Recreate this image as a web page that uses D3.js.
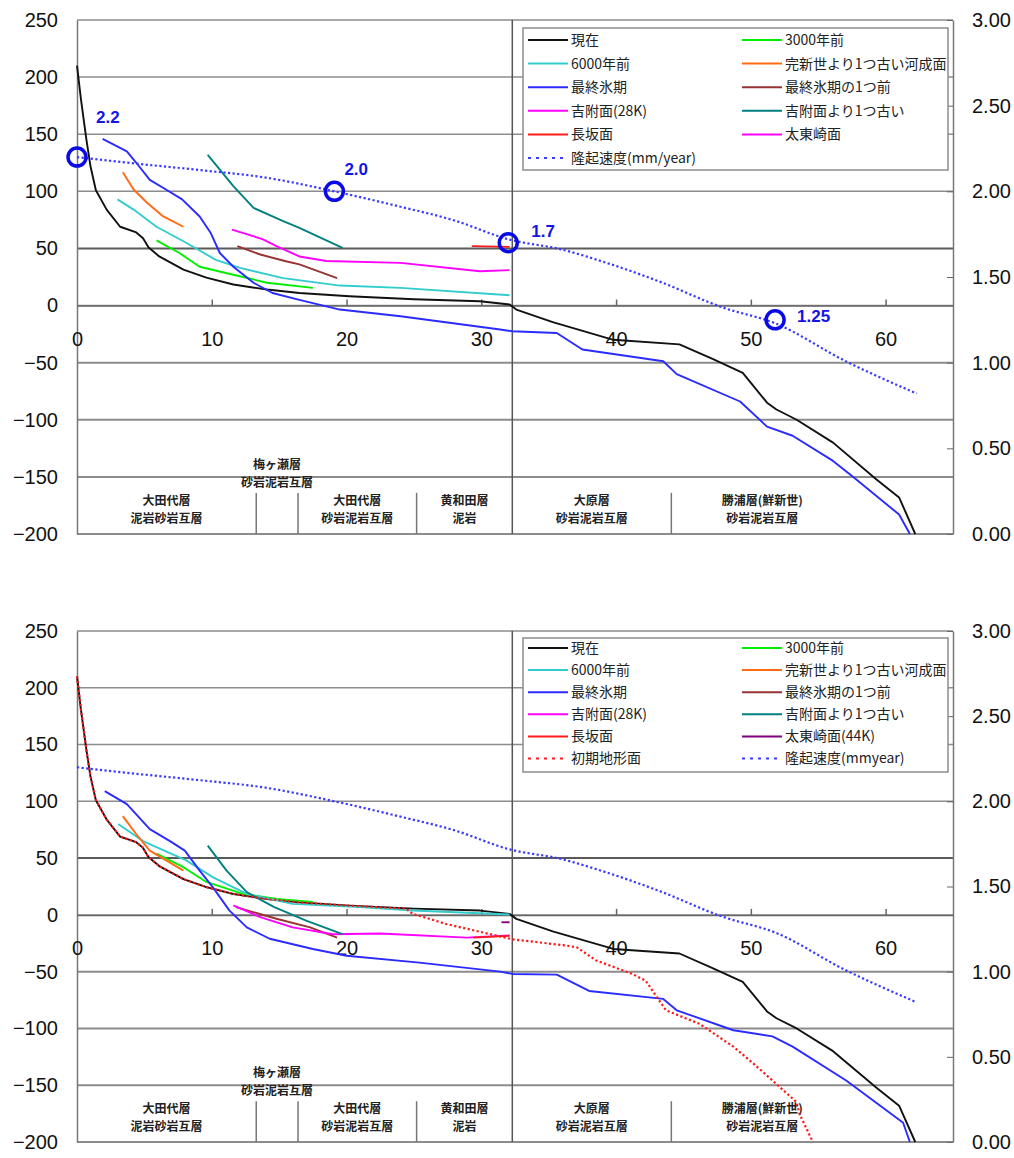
<!DOCTYPE html>
<html>
<head>
<meta charset="utf-8">
<script src="https://cdn.jsdelivr.net/npm/d3@7"></script>
<style>
  body { margin: 0; background: #fff; }
  svg { display: block; }
</style>
</head>
<body>
<svg id="chart" width="1014" height="1158"></svg>
<script>
// ---- profile data: [distance along section (km), elevation (m)] ----
const presentSurface = [[0,210],[0.3,180],[0.7,145],[1.0,122],[1.4,101],[2.2,84],[3.2,69],[4.4,64],[4.9,59],[5.3,51],[6.1,43],[7.9,31.5],[9.6,24.5],[11.6,18.4],[14.1,14],[16.5,11],[20.2,8.1],[25,5.5],[29.9,3.8],[32.1,0.9],[32.6,-3.5],[35.3,-14.5],[39.8,-30],[44.7,-34],[47.2,-47],[49.4,-59],[51.2,-85],[51.9,-91],[53.4,-100],[56.1,-120],[59.3,-152],[61.0,-168],[62.2,-200]];

// upper section: terraces as surveyed
const terrace3000 = [[5.9,57],[7.6,46],[9.1,34],[11.6,27],[14.1,20],[17.5,15.5]];
const terrace6000 = [[3.0,93],[4.2,84],[5.9,69],[8.1,55],[10.3,40],[12.1,33],[15.3,24],[19.5,17.5],[24,15.5],[32.1,9]];
const terracePreHolocene = [[3.4,116.7],[4.2,101.6],[5.2,90],[6.4,78],[7.9,69]];
const terraceLastGlacial = [[1.9,146],[3.7,135],[4.4,125],[5.4,110],[6.6,101.6],[7.8,93],[9.1,78],[9.9,64],[10.6,46],[11.6,34],[13.1,20],[14.5,11],[16.5,5],[19.5,-3.5],[24,-9.4],[31.4,-21],[32.3,-22.5],[35.6,-24],[37.5,-38.5],[43.5,-48.8],[44.5,-60],[49.2,-84],[51.2,-106],[53.1,-114],[56.1,-136],[57.6,-150],[61,-183],[61.8,-200]];
const terracePreLastGlacial = [[11.9,52],[13.6,44.7],[15.5,38.8],[16.5,36],[19.3,24]];
const terraceYoshitsuki = [[11.5,66.5],[13.8,58],[14.8,52],[16.5,43],[18.5,39],[24,37.4],[29.9,30],[32.1,31]];
const terracePreYoshitsuki = [[9.7,132],[11.6,104.5],[13.1,85.5],[15.3,74],[16.5,68],[19.7,50.5]];
const terraceNagasaka = [[29.3,52],[32.1,51.4]];

// lower section: terraces restored to their initial position
const restored3000 = [[5.9,54],[7.9,42],[9.6,29],[12.3,18.5],[14.8,14],[17.5,11.5]];
const restored6000 = [[3.05,80],[4.9,65],[8.1,48],[10.1,33],[12.6,18.5],[16,9.7],[21,6.8],[24.9,3.8],[32.1,0.3]];
const restoredPreHolocene = [[3.4,87],[4.4,71],[5.4,56.6],[7.9,39]];
const restoredLastGlacial = [[2.06,109],[3.7,97.5],[5.4,75.5],[6.9,65],[8.0,56.6],[9.1,39],[10.1,24],[11.3,4],[12.6,-11],[14.3,-21],[17.5,-30],[20,-36],[25.4,-42],[31.4,-50],[32.3,-52],[35.6,-52.6],[38,-67],[43.5,-74],[44.5,-84],[48.7,-101.6],[51.6,-107],[53.1,-116],[57.1,-146],[61.3,-183],[61.8,-200]];
const restoredPreLastGlacial = [[11.8,6.8],[14.8,-3.4],[17.3,-11],[19.3,-20]];
const restoredYoshitsuki = [[11.6,8.3],[13.6,-2],[16,-11],[19,-17],[22.5,-16.4],[28.9,-20],[32.1,-18]];
const restoredPreYoshitsuki = [[9.7,61],[11.1,39],[12.6,20],[14.6,7],[17,-5],[19.7,-17]];
const restoredNagasaka = [[29.4,-20],[32.1,-18.5]];
const restoredTaitozaki = [[31.5,-6.5],[32.1,-6.5]];
const initialLandform = [[0,210],[0.3,180],[0.7,145],[1.0,122],[1.4,101],[2.2,84],[3.2,69],[4.4,64],[4.9,59],[5.3,51],[6.1,43],[7.9,31.5],[9.6,24.5],[11.6,18.4],[14.1,14],[16.5,11],[20.2,8.1],[24.4,5.5],[24.9,1],[27.4,-8],[32.3,-21.5],[36.3,-27],[37.1,-28.7],[38.5,-40],[41.2,-52],[42.2,-58],[43.7,-84],[46.2,-96],[48.7,-116],[50.2,-131],[51.9,-149],[53.4,-165],[53.6,-175],[54.6,-200]];

// uplift rate (mm/year), right axis
const upliftRate = [[0,2.2],[4,2.165],[9,2.125],[14,2.08],[19.1,2.0],[24,1.91],[28,1.83],[32,1.72],[36,1.66],[39,1.59],[43,1.48],[48,1.32],[51.8,1.23],[57,1.01],[62.3,0.82]];
// marked uplift values
const upliftMarks = [[0,2.2],[19.1,2.0],[32.0,1.7],[51.8,1.25]];

// ---- axes ----
const elevationTicks = [-200,-150,-100,-50,0,50,100,150,200,250];
const rateTicks = [0,0.5,1,1.5,2,2.5,3];
const distanceTicks = [0,10,20,30,40,50,60];
const sectionBoundaryKm = 32.3;

// ---- geological units along the section ----
const formations = [
  {name: "大田代層", rock: "泥岩砂岩互層", from: 0, to: 13.3},
  {name: "梅ヶ瀬層", rock: "砂岩泥岩互層", from: 13.3, to: 16.4, raised: true},
  {name: "大田代層", rock: "砂岩泥岩互層", from: 16.4, to: 25.2},
  {name: "黄和田層", rock: "泥岩", from: 25.2, to: 32.3},
  {name: "大原層", rock: "砂岩泥岩互層", from: 32.3, to: 44.1},
  {name: "勝浦層(鮮新世)", rock: "砂岩泥岩互層", from: 44.1, to: 57.6}
];

// ---- series names / legend labels ----
const namesUpper = ["現在","3000年前","6000年前","完新世より1つ古い河成面","最終氷期","最終氷期の1つ前","吉附面(28K)","吉附面より1つ古い","長坂面","太東崎面","隆起速度(mm/year)"];
const namesLower = ["現在","3000年前","6000年前","完新世より1つ古い河成面","最終氷期","最終氷期の1つ前","吉附面(28K)","吉附面より1つ古い","長坂面","太東崎面(44K)","初期地形面","隆起速度(mmyear)"];

const C = {
  present: "#111111", t3000: "#00ee00", t6000: "#33cccc", preHol: "#ff6a13",
  lastGl: "#2b2bff", preLastGl: "#993333", yoshi: "#ff00ff", preYoshi: "#008080",
  nagasaka: "#ff1a1a", taitoUpper: "#ff00ff", taitoLower: "#800080",
  initial: "#ff1a1a", uplift: "#3a3aff"
};

const upperSeries = [
  {label: namesUpper[0], data: presentSurface, color: C.present},
  {label: namesUpper[1], data: terrace3000, color: C.t3000},
  {label: namesUpper[2], data: terrace6000, color: C.t6000},
  {label: namesUpper[3], data: terracePreHolocene, color: C.preHol},
  {label: namesUpper[4], data: terraceLastGlacial, color: C.lastGl},
  {label: namesUpper[5], data: terracePreLastGlacial, color: C.preLastGl},
  {label: namesUpper[6], data: terraceYoshitsuki, color: C.yoshi},
  {label: namesUpper[7], data: terracePreYoshitsuki, color: C.preYoshi},
  {label: namesUpper[8], data: terraceNagasaka, color: C.nagasaka},
  {label: namesUpper[9], data: [], color: C.taitoUpper},
  {label: namesUpper[10], data: upliftRate, color: C.uplift, dash: true, right: true}
];

const lowerSeries = [
  {label: namesLower[0], data: presentSurface, color: C.present},
  {label: namesLower[1], data: restored3000, color: C.t3000},
  {label: namesLower[2], data: restored6000, color: C.t6000},
  {label: namesLower[3], data: restoredPreHolocene, color: C.preHol},
  {label: namesLower[4], data: restoredLastGlacial, color: C.lastGl},
  {label: namesLower[5], data: restoredPreLastGlacial, color: C.preLastGl},
  {label: namesLower[6], data: restoredYoshitsuki, color: C.yoshi},
  {label: namesLower[7], data: restoredPreYoshitsuki, color: C.preYoshi},
  {label: namesLower[8], data: restoredNagasaka, color: C.nagasaka},
  {label: namesLower[9], data: restoredTaitozaki, color: C.taitoLower},
  {label: namesLower[10], data: initialLandform, color: C.initial, dash: true},
  {label: namesLower[11], data: upliftRate, color: C.uplift, dash: true, right: true}
];

const svg = d3.select("#chart");
const X_MAX = 65;
const LATIN = "'Liberation Sans', Arial, sans-serif";
const CJK = "'Noto Sans CJK JP', sans-serif";

function drawPanel(cfg) {
  const g = svg.append("g");
  const x = d3.scaleLinear().domain([0, X_MAX]).range([77, 953]);
  const y = d3.scaleLinear().domain([-200, 250]).range([cfg.bottom, cfg.top]);
  const yr = d3.scaleLinear().domain([0, 3]).range([cfg.bottom, cfg.top]);

  // horizontal gridlines
  g.append("g").selectAll("line").data(elevationTicks).join("line")
    .attr("x1", x(0)).attr("x2", x(X_MAX))
    .attr("y1", d => y(d)).attr("y2", d => y(d))
    .attr("stroke", d => d === 50 ? "#5a5a5a" : "#8c8c8c")
    .attr("stroke-width", d => (d === 50 || d < 0) ? 2 : 1.5);

  // left elevation axis
  const left = g.append("g").attr("transform", `translate(${x(0)},0)`)
    .call(d3.axisLeft(y).tickValues(elevationTicks).tickSize(0).tickPadding(19));
  left.select(".domain").attr("stroke", "#777").attr("stroke-width", 1.5);
  left.selectAll("text").attr("font-family", LATIN).attr("font-size", 20).attr("fill", "#111");

  // right uplift-rate axis
  const right = g.append("g").attr("transform", `translate(${x(X_MAX)},0)`)
    .call(d3.axisRight(yr).tickValues(rateTicks).tickFormat(d3.format(".2f")).tickSizeInner(-6).tickSizeOuter(0).tickPadding(19));
  right.select(".domain").attr("stroke", "#777").attr("stroke-width", 1.5);
  right.selectAll(".tick line").attr("stroke", "#666");
  right.selectAll("text").attr("font-family", LATIN).attr("font-size", 20).attr("fill", "#111");

  // distance axis along the zero-elevation line
  const bottomAxis = g.append("g").attr("transform", `translate(0,${y(0)})`)
    .call(d3.axisBottom(x).tickValues(distanceTicks).tickSizeInner(-6).tickSizeOuter(0).tickPadding(26));
  bottomAxis.select(".domain").attr("stroke", "#666").attr("stroke-width", 1.5);
  bottomAxis.selectAll(".tick line").attr("stroke", "#666").attr("stroke-width", 1.5);
  bottomAxis.selectAll(".tick").filter(d => d === 0).select("line").remove();
  bottomAxis.selectAll("text").attr("font-family", LATIN).attr("font-size", 20).attr("fill", "#111");

  // boundary between the two halves of the section
  g.append("line")
    .attr("x1", x(sectionBoundaryKm)).attr("x2", x(sectionBoundaryKm))
    .attr("y1", y(250)).attr("y2", y(-200))
    .attr("stroke", "#555").attr("stroke-width", 1.5);

  // geological units: separators and two-line captions
  const sepTop = y(-150) + 16;
  g.append("g").selectAll("line")
    .data(formations.filter(f => f.from > 0 && f.from !== sectionBoundaryKm))
    .join("line")
    .attr("x1", d => x(d.from)).attr("x2", d => x(d.from))
    .attr("y1", sepTop).attr("y2", y(-200))
    .attr("stroke", "#777").attr("stroke-width", 1.5);
  const captionRows = formations.flatMap(f => [
    {f, text: f.name, row: 0},
    {f, text: f.rock, row: 1}
  ]);
  g.append("g").selectAll("text").data(captionRows).join("text")
    .attr("x", d => x((d.f.from + d.f.to) / 2))
    .attr("y", d => (d.f.raised ? y(-200) - 69 : y(-200) - 33) + d.row * 17.5)
    .attr("dy", "0.35em")
    .attr("text-anchor", "middle")
    .attr("font-family", CJK).attr("font-size", 12).attr("font-weight", 700).attr("fill", "#222")
    .text(d => d.text);

  // profiles
  const lineL = d3.line().x(d => x(d[0])).y(d => y(d[1]));
  const lineR = d3.line().curve(d3.curveMonotoneX).x(d => x(d[0])).y(d => yr(d[1]));
  g.append("g").selectAll("path").data(cfg.series.filter(s => s.data.length)).join("path")
    .attr("d", s => (s.right ? lineR : lineL)(s.data))
    .attr("fill", "none")
    .attr("stroke", s => s.color)
    .attr("stroke-width", s => s.dash ? 2.2 : 1.9)
    .attr("stroke-dasharray", s => s.dash ? "2.2,2.4" : null)
    .attr("stroke-linejoin", "round");

  // legend
  const lg = g.append("g").attr("transform", `translate(${cfg.legend.x},${cfg.legend.y})`);
  lg.append("rect").attr("width", cfg.legend.w).attr("height", cfg.legend.h)
    .attr("fill", "#fff").attr("stroke", "#8c8c8c").attr("stroke-width", 1.5);
  const items = lg.selectAll("g.item").data(cfg.series).join("g")
    .attr("transform", (s, i) => `translate(${i % 2 ? 219 : 5},${cfg.legend.row0 + Math.floor(i / 2) * cfg.legend.rowH})`);
  items.append("line").attr("x1", 0).attr("x2", 40).attr("y1", 0).attr("y2", 0)
    .attr("stroke", s => s.color).attr("stroke-width", 2)
    .attr("stroke-dasharray", s => s.dash ? "3,5" : null);
  items.append("text").attr("x", 43).attr("dy", "0.35em")
    .attr("font-family", CJK).attr("font-size", 14).attr("fill", "#222")
    .text(s => s.label);

  return {x, y, yr, g};
}

// upper panel
const upper = drawPanel({
  top: 20, bottom: 534, series: upperSeries,
  legend: {x: 523, y: 28, w: 425, h: 142, row0: 12, rowH: 23.6}
});

// marked uplift values on the upper panel
const markOffsets = [[19, -40], [10, -22], [23, -12], [22, -4]];
const marks = upper.g.append("g").selectAll("g").data(upliftMarks).join("g")
  .attr("transform", d => `translate(${upper.x(d[0])},${upper.yr(d[1])})`);
marks.append("circle").attr("r", 9).attr("fill", "none")
  .attr("stroke", "#0a0ae6").attr("stroke-width", 3.5);
marks.append("text")
  .attr("x", (d, i) => markOffsets[i][0]).attr("y", (d, i) => markOffsets[i][1])
  .attr("dy", "0.36em")
  .attr("font-family", LATIN).attr("font-size", 17).attr("font-weight", 700).attr("fill", "#1414e6")
  .text(d => d[1] === 1.25 ? "1.25" : d3.format(".1f")(d[1]));

// lower panel
drawPanel({
  top: 631, bottom: 1142, series: lowerSeries,
  legend: {x: 523, y: 638, w: 425, h: 134, row0: 10, rowH: 22.1}
});
</script>
</body>
</html>
